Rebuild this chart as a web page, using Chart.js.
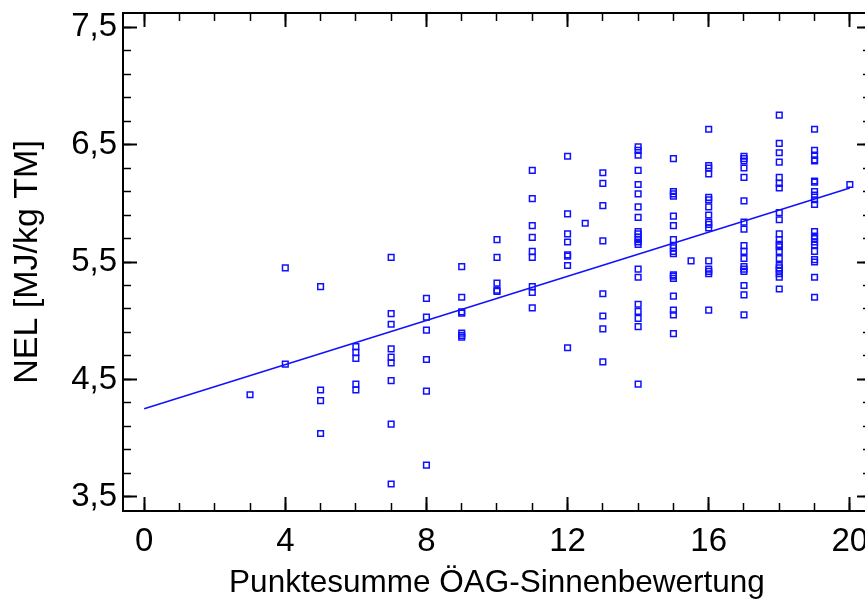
<!DOCTYPE html>
<html><head><meta charset="utf-8">
<script src="https://cdn.jsdelivr.net/npm/chart.js@4"></script>
<style>html,body{margin:0;padding:0;overflow:hidden;background:#fff;width:865px;height:606px}</style>
</head><body>
<canvas id="c" width="880" height="606"></canvas>
<script>
// ---- data ----
const scores = [3, 4, 5, 6, 7, 8, 9, 10, 11, 12, 12.5, 13, 14, 15, 15.5, 16, 17, 18, 19, 20];
const nelValues = [
  [4.37],
  [5.45, 4.63],
  [5.29, 4.41, 4.32, 4.04],
  [4.78, 4.73, 4.68, 4.46, 4.41],
  [5.54, 5.06, 4.97, 4.76, 4.69, 4.64, 4.49, 4.12, 3.61],
  [5.19, 5.03, 4.92, 4.67, 4.40, 3.77],
  [5.46, 5.20, 5.075, 5.065, 4.895, 4.875, 4.86],
  [5.69, 5.54, 5.32, 5.26, 5.25],
  [6.28, 6.04, 5.81, 5.71, 5.59, 5.54, 5.29, 5.24, 5.11],
  [6.40, 5.91, 5.74, 5.67, 5.56, 5.55, 5.47, 4.77],
  [5.83],
  [6.26, 6.17, 5.98, 5.68, 5.23, 5.04, 4.93, 4.65],
  [6.48, 6.45, 6.41, 6.28, 6.16, 6.08, 5.97, 5.88, 5.76, 5.74, 5.71, 5.69, 5.67, 5.65, 5.44, 5.37, 5.14, 5.08, 5.02, 4.95, 4.46],
  [6.38, 6.10, 6.08, 6.06, 5.89, 5.81, 5.69, 5.64, 5.62, 5.59, 5.57, 5.39, 5.38, 5.36, 5.21, 5.09, 5.05, 4.89],
  [5.51],
  [6.63, 6.32, 6.30, 6.25, 6.05, 6.03, 5.97, 5.90, 5.84, 5.82, 5.79, 5.51, 5.44, 5.42, 5.40, 5.09],
  [6.40, 6.38, 6.36, 6.30, 6.22, 6.02, 5.84, 5.78, 5.64, 5.59, 5.53, 5.46, 5.44, 5.42, 5.30, 5.22, 5.05],
  [6.75, 6.51, 6.43, 6.35, 6.22, 6.17, 6.13, 5.92, 5.86, 5.74, 5.69, 5.65, 5.63, 5.59, 5.53, 5.47, 5.45, 5.43, 5.40, 5.37, 5.27],
  [6.63, 6.45, 6.41, 6.37, 6.36, 6.19, 6.18, 6.10, 6.07, 6.03, 5.99, 5.76, 5.72, 5.70, 5.67, 5.645, 5.59, 5.52, 5.50, 5.37, 5.20],
  [6.16]
];
const fitX = [0, 20];
const fitY = [4.25, 6.13];
const xMajorTicks = [0, 4, 8, 12, 16, 20];
const xMinorTicks = [0, 1, 2, 3, 4, 5, 6, 7, 8, 9, 10, 11, 12, 13, 14, 15, 16, 17, 18, 19, 20];
const yMajorTicks = [3.5, 4.5, 5.5, 6.5, 7.5];
const yMinorTicks = [3.5, 3.7, 3.9, 4.1, 4.3, 4.5, 4.7, 4.9, 5.1, 5.3, 5.5, 5.7, 5.9, 6.1, 6.3, 6.5, 6.7, 6.9, 7.1, 7.3, 7.5];
const xRange = [-0.6, 20.6];
const yRange = [3.38, 7.62];
const xTitle = 'Punktesumme ÖAG-Sinnenbewertung';
const yTitle = 'NEL [MJ/kg TM]';

// ---- build chart ----
const points = [];
scores.forEach((s, i) => nelValues[i].forEach(v => points.push({x: s, y: v})));
const fitLine = fitX.map((x, i) => ({x: x, y: fitY[i]}));

const FONT = 'Liberation Sans, Arial, sans-serif';

function makeAxis(position, tickValues, range, size, major, extra) {
  const isX = position === 'bottom' || position === 'top';
  const ax = {
    type: 'linear',
    position: position,
    min: range[0], max: range[1],
    weight: major ? 1 : 0,
    border: {display: major, color: '#000', width: 2},
    grid: {
      display: true, drawOnChartArea: false, drawTicks: true,
      tickLength: major ? -14 : -8,
      tickColor: '#000', tickWidth: major ? 2 : 1.5
    },
    ticks: {display: false, autoSkip: false},
    afterBuildTicks: (scale) => { scale.ticks = tickValues.map(v => ({value: v})); },
    afterFit: (scale) => {
      if (isX) scale.height = size; else scale.width = size;
      scale.paddingLeft = 0; scale.paddingRight = 0; scale.paddingTop = 0; scale.paddingBottom = 0;
    }
  };
  if (extra) Object.assign(ax, extra);
  return ax;
}

const scales = {
  x: makeAxis('bottom', xMajorTicks, xRange, 95, true, {
    ticks: {display: true, autoSkip: false, padding: 25, color: '#000', maxRotation: 0,
            font: {family: FONT, size: 33}, callback: v => String(v)},
    title: {display: true, text: xTitle, color: '#000', font: {family: FONT, size: 31.5},
            padding: {top: 0, bottom: 4}}
  }),
  x2: makeAxis('bottom', xMinorTicks, xRange, 0, false),
  xt: makeAxis('top', xMajorTicks, xRange, 13, true),
  xt2: makeAxis('top', xMinorTicks, xRange, 0, false),
  y: makeAxis('left', yMajorTicks, yRange, 123, true, {
    ticks: {display: true, autoSkip: false, padding: 20, color: '#000',
            font: {family: FONT, size: 33}, callback: v => v.toFixed(1).replace('.', ',')},
    title: {display: true, text: yTitle, color: '#000', font: {family: FONT, size: 34},
            padding: {top: 7, bottom: 0}}
  }),
  y2: makeAxis('left', yMinorTicks, yRange, 0, false),
  yr: makeAxis('right', yMajorTicks, yRange, 9, true),
  yr2: makeAxis('right', yMinorTicks, yRange, 0, false)
};

new Chart(document.getElementById('c'), {
  type: 'scatter',
  data: {
    datasets: [
      {
        label: 'NEL',
        data: points,
        xAxisID: 'x', yAxisID: 'y',
        pointStyle: 'rect',
        pointRadius: 4,
        pointBorderWidth: 1.5,
        pointBorderColor: '#1010ff',
        pointBackgroundColor: 'rgba(255,255,255,0)',
        showLine: false
      },
      {
        label: 'Fit',
        data: fitLine,
        xAxisID: 'x', yAxisID: 'y',
        showLine: true,
        pointRadius: 0,
        borderColor: '#1010ff',
        borderWidth: 1.5,
        fill: false
      }
    ]
  },
  options: {
    responsive: false,
    animation: false,
    devicePixelRatio: 1,
    layout: {padding: 0},
    plugins: {legend: {display: false}, tooltip: {enabled: false}},
    scales: scales
  }
});
</script>
</body></html>
